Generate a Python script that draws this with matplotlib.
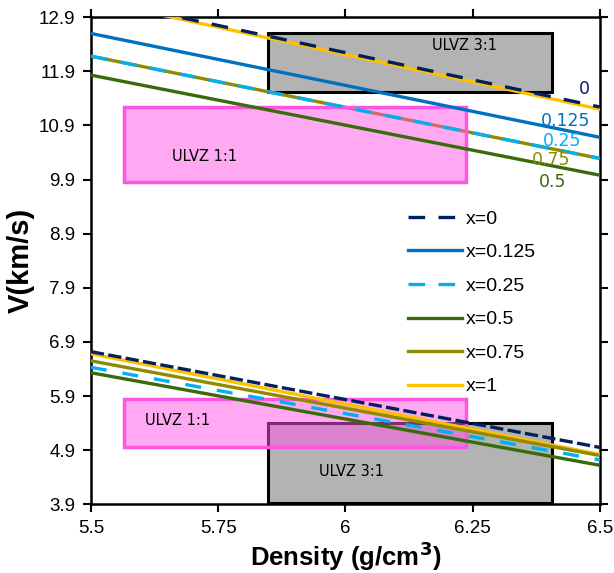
import matplotlib
matplotlib.use("Agg")
import matplotlib.pyplot as plt
from matplotlib.patches import Rectangle

# Data
density = [5.5, 6.5]
series_names = ["x=0", "x=0.125", "x=0.25", "x=0.5", "x=0.75", "x=1"]
vp_x0 = [13.25, 11.24]
vp_x0125 = [12.60, 10.68]
vp_x025 = [12.18, 10.29]
vp_x05 = [11.83, 9.98]
vp_x075 = [12.18, 10.29]
vp_x1 = [13.22, 11.20]
vs_x0 = [6.72, 4.95]
vs_x025 = [6.43, 4.72]
vs_x05 = [6.33, 4.62]
vs_x075 = [6.55, 4.80]
vs_x1 = [6.68, 4.82]

# ULVZ boxes: (density_min, density_max, v_min, v_max)
ulvz31_vp = (5.848, 6.406, 11.51, 12.60)
ulvz11_vp = (5.565, 6.237, 9.85, 11.24)
ulvz11_vs = (5.565, 6.237, 4.95, 5.84)
ulvz31_vs = (5.848, 6.406, 3.93, 5.40)

xticks = [5.5, 5.75, 6, 6.25, 6.5]
xtick_labels = ["5.5", "5.75", "6", "6.25", "6.5"]
yticks = [3.9, 4.9, 5.9, 6.9, 7.9, 8.9, 9.9, 10.9, 11.9, 12.9]

colors = {"x=0": "#002060", "x=0.125": "#0070C0", "x=0.25": "#00B0F0",
          "x=0.5": "#3A6B0A", "x=0.75": "#8F8A00", "x=1": "#FFC000"}

fig = plt.figure(figsize=(6.14, 5.73), dpi=100)
ax = fig.add_axes([0.148, 0.120, 0.829, 0.850])

gray_face = "#B3B3B3"
pink_face = "#FF55E6"
pink_edge = "#FF55E0"

def gray_box(b):
    ax.add_patch(Rectangle((b[0], b[2]), b[1] - b[0], b[3] - b[2], facecolor=gray_face,
                           edgecolor="black", linewidth=2.2, zorder=1))

def pink_box(b):
    ax.add_patch(Rectangle((b[0], b[2]), b[1] - b[0], b[3] - b[2], facecolor=pink_face,
                           alpha=0.5, edgecolor="none", zorder=2))
    ax.add_patch(Rectangle((b[0], b[2]), b[1] - b[0], b[3] - b[2], facecolor="none",
                           edgecolor=pink_edge, linewidth=2.5, zorder=2))

gray_box(ulvz31_vp)
gray_box(ulvz31_vs)
pink_box(ulvz11_vp)
pink_box(ulvz11_vs)

lw = 2.4
dash = (0, (5, 4))
dash_vs0 = (0, (4, 1.3))
dash_vs25 = (0, (4.8, 4.8))
# Vp lines
ax.plot(density, vp_x1, color=colors["x=1"], lw=lw, zorder=3, label="x=1")
ax.plot(density, vp_x0, color=colors["x=0"], lw=lw, ls=dash, zorder=4, label="x=0")
ax.plot(density, vp_x0125, color=colors["x=0.125"], lw=lw, zorder=3, label="x=0.125")
ax.plot(density, vp_x075, color=colors["x=0.75"], lw=lw, zorder=1.5, label="x=0.75")
ax.plot(density, vp_x025, color=colors["x=0.25"], lw=lw, ls=dash, zorder=4, label="x=0.25")
ax.plot(density, vp_x05, color=colors["x=0.5"], lw=lw, zorder=3, label="x=0.5")
# Vs lines
ax.plot(density, vs_x1, color=colors["x=1"], lw=lw, zorder=3)
ax.plot(density, vs_x075, color=colors["x=0.75"], lw=lw, zorder=3)
ax.plot(density, vs_x05, color=colors["x=0.5"], lw=lw, zorder=3)
ax.plot(density, vs_x025, color=colors["x=0.25"], lw=lw, ls=dash_vs25, zorder=4)
ax.plot(density, vs_x0, color=colors["x=0"], lw=lw, ls=dash_vs0, zorder=4)

# Box labels
box_font = dict(family="DejaVu Sans", fontsize=10.5, color="black", zorder=6)
ax.text(6.235, 12.38, "ULVZ 3:1", ha="center", va="center", **box_font)
ax.text(5.724, 10.33, "ULVZ 1:1", ha="center", va="center", **box_font)
ax.text(5.671, 5.45, "ULVZ 1:1", ha="center", va="center", **box_font)
ax.text(6.013, 4.50, "ULVZ 3:1", ha="center", va="center", **box_font)

# End labels
end_font = dict(family="DejaVu Sans", fontsize=12.5, zorder=6)
ax.text(6.47, 11.57, "0", color=colors["x=0"], ha="center", va="center", **end_font)
ax.text(6.433, 10.99, "0.125", color=colors["x=0.125"], ha="center", va="center", **end_font)
ax.text(6.425, 10.61, "0.25", color=colors["x=0.25"], ha="center", va="center", **end_font)
ax.text(6.405, 10.26, "0.75", color=colors["x=0.75"], ha="center", va="center", **end_font)
ax.text(6.408, 9.85, "0.5", color=colors["x=0.5"], ha="center", va="center", **end_font)

ax.set_xlim(5.5, 6.5)
ax.set_ylim(3.9, 12.9)
ax.set_xticks(xticks)
ax.set_xticklabels(xtick_labels)
ax.set_yticks(yticks)
ax.set_yticklabels([f"{v:.1f}" for v in yticks])
tick_font = "Liberation Sans"
for lab in ax.get_xticklabels() + ax.get_yticklabels():
    lab.set_family(tick_font)
    lab.set_fontsize(13.5)
ax.tick_params(direction="out", length=6, width=1.5, top=True, right=True, pad=5)
for s in ax.spines.values():
    s.set_linewidth(1.8)

ax.set_xlabel("Density (g/cm$^\\mathbf{3}$)", fontsize=18.5, fontweight="bold", family=tick_font, labelpad=2)
ax.set_ylabel("V(km/s)", fontsize=21, fontweight="bold", family=tick_font, labelpad=3)

handles, labels = ax.get_legend_handles_labels()
order = [labels.index(n) for n in series_names]
leg = ax.legend([handles[i] for i in order], [labels[i] for i in order],
                loc="upper left", bbox_to_anchor=(0.588, 0.64), frameon=False,
                prop={"family": tick_font, "size": 14}, handlelength=2.8,
                handletextpad=0.2, labelspacing=0.82)
leg.set_zorder(7)

fig.savefig("out.png", dpi=100)
